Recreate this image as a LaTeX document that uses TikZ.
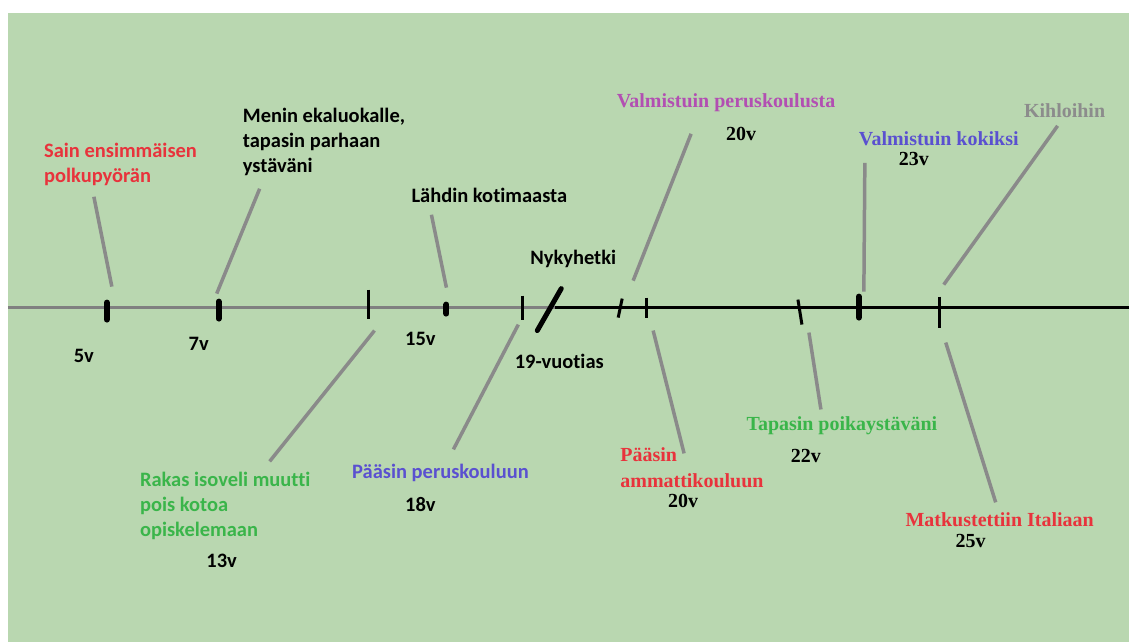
\documentclass[tikz,border=0pt]{standalone}
\usepackage{fontspec}
\usepackage{tikz}
\setmainfont{Liberation Serif}
\newfontfamily\lifesans[Ligatures=NoCommon]{Carlito}
\definecolor{LifeBack}{HTML}{B9D7B0}
\definecolor{LifeAxis}{HTML}{808080}
\definecolor{LifePointer}{HTML}{8A8A8A}
\definecolor{LifeRed}{HTML}{E8333C}
\definecolor{LifeGreen}{HTML}{3AB54A}
\definecolor{LifeBlue}{HTML}{5A50D0}
\definecolor{LifePurple}{HTML}{B24FB2}
\definecolor{LifeMuted}{HTML}{8C8C8C}

\begin{document}
\begin{tikzpicture}[x=1pt,y=-1pt,
    sanslabel/.style={font=\lifesans\bfseries\fontsize{20.5}{25}\selectfont,inner sep=0pt,align=left},
    seriflabel/.style={font=\bfseries\fontsize{20}{26}\selectfont,inner sep=0pt,align=left},
    pointer/.style={LifePointer,line width=3.5pt},
    thintick/.style={line width=3pt},
    fattick/.style={line width=6pt,line cap=round}]
      \fill[white] (0,0) rectangle (1130,643);
      \fill[LifeBack] (8,13) rectangle (1130,643);
      % the line of life, past in grey and future in black
      \draw[LifeAxis,line width=3pt] (8,308) -- (556,308);
      \draw[black,line width=3pt] (556,308) -- (1130,308);
      \draw[fattick] (107,303) -- (107,320);
      \draw[fattick] (219,302) -- (219,319);
      \draw[thintick] (369,290) -- (369,319);
      \draw[fattick] (447,305) -- (447,314);
      \draw[thintick] (523,296) -- (523,320);
      \draw[line width=5pt,line cap=round] (538,331) -- (562,289);
      \draw[thintick] (619,318) -- (623,299);
      \draw[thintick] (647,298) -- (647,318);
      \draw[thintick] (799,300) -- (803,325);
      \draw[fattick] (860,297) -- (860,318);
      \draw[thintick] (941,297) -- (941,328);
      % left side, sans labels
      \node[sanslabel,text=LifeRed,anchor=base west] (sain) at (44,183) {Sain ensimmäisen\\polkupyörän};
      \node[sanslabel,anchor=base] (a5) at (84,363) {5v};
      \node[sanslabel,anchor=base west] (menin) at (243,173) {Menin ekaluokalle,\\tapasin parhaan\\ystäväni};
      \node[sanslabel,anchor=base] (a7) at (199,351) {7v};
      \node[sanslabel,text=LifeGreen,anchor=base west] (rakas) at (140,537) {Rakas isoveli muutti\\pois kotoa\\opiskelemaan};
      \node[sanslabel,anchor=base] (a13) at (222,568) {13v};
      \node[sanslabel,anchor=base] (lahdin) at (490,203) {Lähdin kotimaasta};
      \node[sanslabel,anchor=base] (a15) at (421,346) {15v};
      \node[sanslabel,text=LifeBlue,anchor=base] (paasinperus) at (441,479) {Pääsin peruskouluun};
      \node[sanslabel,anchor=base] (a18) at (421,512) {18v};
      \node[sanslabel,anchor=base] (nyky) at (574,265) {Nykyhetki};
      \node[sanslabel,anchor=base] (vuotias) at (560,369) {19-vuotias};
      % right side, serif labels
      \node[seriflabel,text=LifePurple,anchor=base] (valmperus) at (727,108) {Valmistuin peruskoulusta};
      \node[seriflabel,anchor=base] (b20a) at (742,141) {20v};
      \node[seriflabel,text=LifeRed,anchor=base west] (paasinamm) at (621,488) {Pääsin\\ammattikouluun};
      \node[seriflabel,anchor=base] (b20b) at (684,508) {20v};
      \node[seriflabel,text=LifeGreen,anchor=base] (tapasin) at (843,431) {Tapasin poikaystäväni};
      \node[seriflabel,anchor=base] (b22) at (807,463) {22v};
      \node[seriflabel,text=LifeBlue,anchor=base] (valmkok) at (940,146) {Valmistuin kokiksi};
      \node[seriflabel,anchor=base] (b23) at (915,166) {23v};
      \node[seriflabel,text=LifeMuted,anchor=base] (kihlo) at (1066,118) {Kihloihin};
      \node[seriflabel,text=LifeRed,anchor=base] (matk) at (1001,527) {Matkustettiin Italiaan};
      \node[seriflabel,anchor=base] (b25) at (972,548) {25v};
      % pointer ends
      \coordinate (p5a) at (94,197);   \coordinate (p5b) at (112,287);
      \coordinate (p7a) at (260,189);  \coordinate (p7b) at (217,294);
      \coordinate (p13a) at (375,331); \coordinate (p13b) at (270,462);
      \coordinate (p15a) at (432,215); \coordinate (p15b) at (447,288);
      \coordinate (p18a) at (519,325); \coordinate (p18b) at (454,450);
      \coordinate (p20a) at (692,134); \coordinate (p20b) at (634,281);
      \coordinate (p20c) at (654,331); \coordinate (p20d) at (685,454);
      \coordinate (p22a) at (810,333); \coordinate (p22b) at (822,410);
      \coordinate (p23a) at (866,163); \coordinate (p23b) at (865,292);
      \coordinate (pka) at (1059,126); \coordinate (pkb) at (945,285);
      \coordinate (p25a) at (947,343); \coordinate (p25b) at (997,503);
      \draw[pointer] (p5a) -- (p5b);
      \draw[pointer] (p7a) -- (p7b);
      \draw[pointer] (p13a) -- (p13b);
      \draw[pointer] (p15a) -- (p15b);
      \draw[pointer] (p18a) -- (p18b);
      \draw[pointer] (p20a) -- (p20b);
      \draw[pointer] (p20c) -- (p20d);
      \draw[pointer] (p22a) -- (p22b);
      \draw[pointer] (p23a) -- (p23b);
      \draw[pointer] (pka) -- (pkb);
      \draw[pointer] (p25a) -- (p25b);
    \end{tikzpicture}
\end{document}
